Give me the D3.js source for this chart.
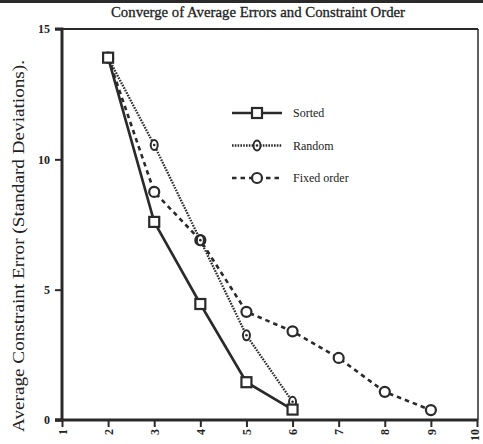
<!DOCTYPE html>
<html>
<head>
<meta charset="utf-8">
<script src="https://cdn.jsdelivr.net/npm/d3@7"></script>
<style>
body{margin:0;background:#fff;}
text{font-family:"Liberation Serif","DejaVu Serif",serif;fill:#222;}
</style>
</head>
<body>
<svg id="chart" width="483" height="444"></svg>
<script>
var xTicks=[1,2,3,4,5,6,7,8,9,10];
var yTicks=[0,5,10,15];
var sortedX=[2,3,4,5,6];
var sortedY=[13.9,7.6,4.45,1.45,0.4];
var randomX=[2,3,4,5,6];
var randomY=[13.9,10.55,6.9,3.25,0.7];
var fixedX=[2,3,4,5,6,7,8,9];
var fixedY=[13.9,8.75,6.9,4.15,3.4,2.38,1.08,0.38];
var seriesNames=["Sorted","Random","Fixed order"];

var svg=d3.select("#chart");
var ink="#2a2a2a";

var x=d3.scaleLinear().domain([1,10]).range([62,477]);
var y=d3.scaleLinear().domain([0,15]).range([420,29]);

//scanned page edge at the top
svg.append("rect").attr("x",0).attr("y",0).attr("width",483).attr("height",3).attr("fill",ink);

svg.append("text").attr("x",258).attr("y",17).attr("text-anchor","middle")
	.attr("font-size",15).attr("textLength",294).attr("lengthAdjust","spacingAndGlyphs")
	.attr("stroke","#222").attr("stroke-width",0.3)
	.text("Converge of Average Errors and Constraint Order");

svg.append("text").attr("transform","translate(24,246) rotate(-90)").attr("text-anchor","middle")
	.attr("font-size",17).attr("textLength",372).attr("lengthAdjust","spacingAndGlyphs")
	.text("Average Constraint Error (Standard Deviations).");

//frame
svg.append("line").attr("x1",55).attr("x2",478).attr("y1",y(15)).attr("y2",y(15)).attr("stroke",ink).attr("stroke-width",2);
svg.append("line").attr("x1",478).attr("x2",478).attr("y1",y(15)).attr("y2",y(0)).attr("stroke",ink).attr("stroke-width",1.5);

var yAxis=svg.append("g").attr("transform","translate(62,0)")
	.call(d3.axisLeft(y).tickValues(yTicks).tickSize(7).tickPadding(5));
var xAxis=svg.append("g").attr("transform","translate(0,420)")
	.call(d3.axisBottom(x).tickValues(xTicks).tickSize(7).tickPadding(3));

[yAxis,xAxis].forEach(function(ax){
	ax.select(".domain").attr("stroke",ink).attr("stroke-width",3);
	ax.selectAll(".tick line").attr("stroke",ink).attr("stroke-width",2);
	ax.selectAll("text").attr("font-family","Liberation Serif").attr("font-size",12).attr("fill",ink).attr("font-weight","bold");
});
yAxis.select(".domain").attr("d","M-7,"+y(15)+"H0V"+y(0)+"H-7");
xAxis.select(".domain").attr("d","M55,0H478");
xAxis.selectAll("text").attr("transform","rotate(-90)").attr("text-anchor","end")
	.attr("x",-9).attr("y",function(d){return d===10?-3:0;}).attr("dy","0.35em");

var line=d3.line().x(function(d){return x(d[0]);}).y(function(d){return y(d[1]);});

function pairs(xs,ys){
	return xs.map(function(v,i){return [v,ys[i]];});
}

var styles={
	"Sorted":{width:2.6,dash:null},
	"Random":{width:2.3,dash:"1.6,1.2"},
	"Fixed order":{width:2.6,dash:"4.5,4"}
};

function drawMarker(g,name,cx,cy){
	if(name==="Sorted"){
		g.append("rect").attr("x",cx-5).attr("y",cy-5).attr("width",10).attr("height",10)
			.attr("fill","#fff").attr("stroke",ink).attr("stroke-width",2.2);
	}else if(name==="Random"){
		g.append("ellipse").attr("cx",cx).attr("cy",cy).attr("rx",3.5).attr("ry",5)
			.attr("fill","#fff").attr("stroke",ink).attr("stroke-width",2);
		g.append("circle").attr("cx",cx).attr("cy",cy).attr("r",1.3).attr("fill",ink);
	}else{
		g.append("circle").attr("cx",cx).attr("cy",cy).attr("r",5)
			.attr("fill","#fff").attr("stroke",ink).attr("stroke-width",2.2);
	}
}

var data={
	"Sorted":pairs(sortedX,sortedY),
	"Random":pairs(randomX,randomY),
	"Fixed order":pairs(fixedX,fixedY)
};

["Fixed order","Random","Sorted"].forEach(function(name){
	var st=styles[name];
	svg.append("path").datum(data[name]).attr("d",line).attr("fill","none")
		.attr("stroke",ink).attr("stroke-width",st.width).attr("stroke-dasharray",st.dash);
});
["Fixed order","Random","Sorted"].forEach(function(name){
	var g=svg.append("g");
	data[name].forEach(function(d){drawMarker(g,name,x(d[0]),y(d[1]));});
});

//legend
var legend=svg.append("g");
var legendY=d3.scalePoint().domain(seriesNames).range([113,178]);
seriesNames.forEach(function(name){
	var st=styles[name];
	var ly=legendY(name);
	legend.append("line").attr("x1",232).attr("x2",282).attr("y1",ly).attr("y2",ly)
		.attr("stroke",ink).attr("stroke-width",st.width).attr("stroke-dasharray",st.dash);
	drawMarker(legend,name,257,ly);
	legend.append("text").attr("x",293).attr("y",ly).attr("dy","0.35em").attr("font-size",12).text(name);
});
</script>
</body>
</html>
